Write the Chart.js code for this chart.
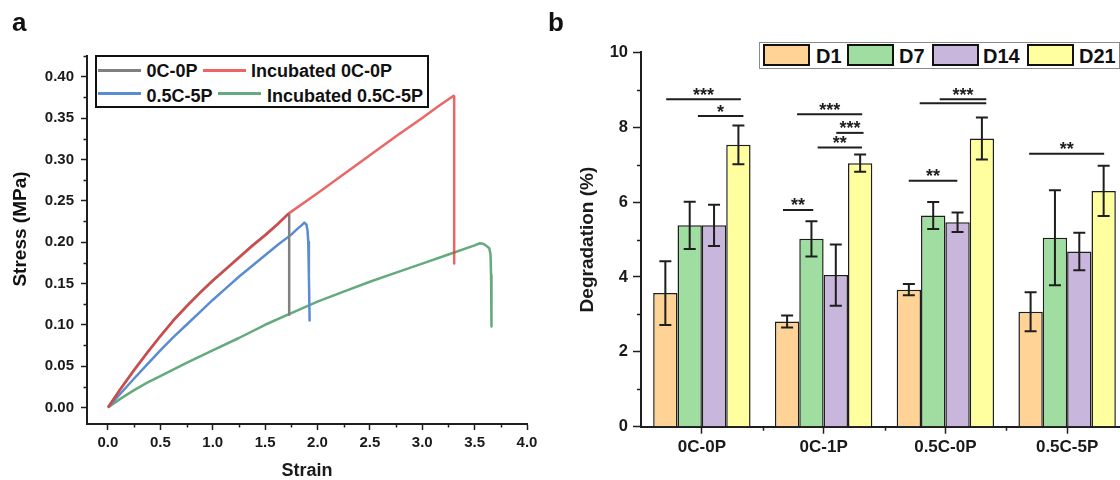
<!DOCTYPE html>
<html>
<head>
<meta charset="utf-8">
<script src="https://cdn.jsdelivr.net/npm/chart.js@4.4.1/dist/chart.umd.min.js"></script>
<style>
  html, body { margin: 0; padding: 0; background: #fff; }
  body { width: 1120px; height: 480px; position: relative; overflow: hidden;
         font-family: "Liberation Sans", Arial, sans-serif; color: #111; }
  .abs { position: absolute; white-space: nowrap; font-weight: bold; }
  #wrapA { position: absolute; left: 0; top: 0; width: 560px; height: 480px; }
  #wrapB { position: absolute; left: 560px; top: 0; width: 560px; height: 480px; overflow: hidden; }
  #chartB { position: absolute; left: 0; top: 0; }
  .tag { font-size: 26px; line-height: 26px; }
  .legA { font-size: 18px; line-height: 18px; }
  .legB { font-size: 20px; line-height: 20px; }
  .swatch { position: absolute; height: 2.5px; width: 43px; }
  .box { position: absolute; box-sizing: border-box; border: 2px solid #111; width: 47px; height: 22px; }
</style>
</head>
<body>
<div id="wrapA"><canvas id="chartA" width="560" height="480"></canvas></div>
<div id="wrapB"><canvas id="chartB" width="600" height="480"></canvas></div>

<div class="abs tag" style="left:12px; top:9px;">a</div>
<div class="abs tag" style="left:548px; top:9px;">b</div>
<div class="abs" style="left:18.5px; top:229px; font-size:19px; line-height:19px; transform:translate(-50%,-50%) rotate(-90deg);">Stress (MPa)</div>

<!-- legend a -->
<div style="position:absolute; left:95px; top:55px; width:334px; height:53px; box-sizing:border-box; border:2px solid #111; background:#fff;"></div>
<div class="swatch" style="left:98px; top:69px; background:rgb(128,128,128);"></div>
<div class="abs legA" style="left:146.5px; top:61.7px;">0C-0P</div>
<div class="swatch" style="left:203px; top:69px; background:rgb(236,100,100);"></div>
<div class="abs legA" style="left:251px; top:61.7px;">Incubated 0C-0P</div>
<div class="swatch" style="left:98px; top:92px; background:rgb(90,140,210);"></div>
<div class="abs legA" style="left:146.5px; top:86.7px;">0.5C-5P</div>
<div class="swatch" style="left:218px; top:92px; background:rgb(100,170,125);"></div>
<div class="abs legA" style="left:267px; top:86.7px;">Incubated 0.5C-5P</div>

<!-- legend b -->
<div style="position:absolute; left:759px; top:41.5px; width:361px; height:27px; box-sizing:border-box; border:1.5px solid #8a8a8a; background:#fff;"></div>
<div class="box" style="left:763px; top:44px; background:#FFD296;"></div>
<div class="abs legB" style="left:816px; top:46px;">D1</div>
<div class="box" style="left:847px; top:44px; background:#A0DDA0;"></div>
<div class="abs legB" style="left:899px; top:46px;">D7</div>
<div class="box" style="left:931.5px; top:44px; background:#C8B6DC;"></div>
<div class="abs legB" style="left:983px; top:46px;">D14</div>
<div class="box" style="left:1026.5px; top:44px; background:#FFFFA0;"></div>
<div class="abs legB" style="left:1079px; top:46px;">D21</div>

<script>
// ---- panel a: stress-strain ----
const strainTicks = [0, 0.5, 1, 1.5, 2, 2.5, 3, 3.5, 4];
const stressTicks = [0, 0.05, 0.1, 0.15, 0.2, 0.25, 0.3, 0.35, 0.4];
const strainMinor = [0.25, 0.75, 1.25, 1.75, 2.25, 2.75, 3.25, 3.75];
const stressMinor = [0.025, 0.075, 0.125, 0.175, 0.225, 0.275, 0.325, 0.375, 0.425];

const seriesNames = ['0C-0P', 'Incubated 0C-0P', '0.5C-5P', 'Incubated 0.5C-5P'];

const strain0C0P = [0, 0.125, 0.25, 0.375, 0.5, 0.625, 0.75, 0.875, 1.0, 1.125, 1.25, 1.375, 1.5, 1.625, 1.72, 1.73, 1.73];
const stress0C0P = [0, 0.0235, 0.0455, 0.0665, 0.0865, 0.1055, 0.1225, 0.1385, 0.1535, 0.1675, 0.1815, 0.1955, 0.2085, 0.2225, 0.234, 0.233, 0.112];

const strainInc0C0P = [0, 0.125, 0.25, 0.375, 0.5, 0.625, 0.75, 0.875, 1.0, 1.125, 1.25, 1.375, 1.5, 1.625, 1.73,
    2.0, 2.25, 2.5, 2.75, 3.0, 3.15, 3.3, 3.305, 3.305];
const stressInc0C0P = [0, 0.023, 0.045, 0.066, 0.086, 0.105, 0.122, 0.138, 0.153, 0.167, 0.181, 0.195, 0.208, 0.222, 0.235,
    0.259, 0.282, 0.305, 0.328, 0.35, 0.364, 0.377, 0.376, 0.174];

const strain05C5P = [0, 0.125, 0.25, 0.375, 0.5, 0.625, 0.75, 0.875, 1.0, 1.125, 1.25, 1.375, 1.5, 1.625, 1.75,
    1.8, 1.85, 1.875, 1.895, 1.905, 1.912, 1.918, 1.925];
const stress05C5P = [0, 0.0175, 0.035, 0.052, 0.069, 0.085, 0.1, 0.115, 0.13, 0.144, 0.158, 0.171, 0.184, 0.197, 0.209,
    0.215, 0.2205, 0.2235, 0.221, 0.214, 0.2, 0.16, 0.104];

const strainInc05C5P = [0, 0.125, 0.25, 0.375, 0.5, 0.75, 1.0, 1.25, 1.5, 1.75, 2.0, 2.25, 2.5, 2.75, 3.0, 3.25, 3.5,
    3.55, 3.58, 3.6, 3.64, 3.652, 3.657, 3.66, 3.662];
const stressInc05C5P = [0, 0.011, 0.021, 0.03, 0.038, 0.054, 0.069, 0.084, 0.1, 0.114, 0.128, 0.14, 0.152, 0.163, 0.174, 0.185, 0.196,
    0.1986, 0.198, 0.1966, 0.1925, 0.185, 0.16, 0.13, 0.098];

// ---- panel b: degradation ----
const groups = ['0C-0P', '0C-1P', '0.5C-0P', '0.5C-5P'];
const days = ['D1', 'D7', 'D14', 'D21'];
const d1Mean = [3.57, 2.81, 3.66, 3.07];
const d1Err = [0.85, 0.16, 0.15, 0.52];
const d7Mean = [5.38, 5.02, 5.64, 5.05];
const d7Err = [0.63, 0.47, 0.36, 1.27];
const d14Mean = [5.38, 4.05, 5.46, 4.68];
const d14Err = [0.55, 0.82, 0.26, 0.5];
const d21Mean = [7.53, 7.04, 7.7, 6.3];
const d21Err = [0.52, 0.23, 0.56, 0.67];
const degTicks = [0, 2, 4, 6, 8, 10];
const degMinor = [1, 3, 5, 7, 9];
const groupEdges = [0.5, 1.5, 2.5, 3.5];

// significance bars: group, from, to (offset from group centre), level (%), stars
const sigBars = [
    [0, -0.293, 0.320, 8.75, '***'],
    [0, -0.033, 0.341, 8.30, '*'],
    [1, -0.218, 0.317, 8.35, '***'],
    [1, 0.104, 0.328, 7.85, '***'],
    [1, -0.049, 0.315, 7.46, '**'],
    [1, -0.334, -0.085, 5.79, '**'],
    [2, -0.211, 0.336, 8.64, ''],
    [2, -0.047, 0.336, 8.75, '***'],
    [2, -0.301, 0.098, 6.57, '**'],
    [3, -0.312, 0.304, 7.29, '**']
];

Chart.defaults.font.family = "'Liberation Sans', Arial, sans-serif";
Chart.defaults.color = '#1a1a1a';

const ink = '#1e1e1e';

const minorTicks = (xVals, yVals, len) => ({
    id: 'minorTicks',
    afterDraw: chart => {
        const {ctx} = chart;
        const xs = chart.scales.x, ys = chart.scales.y;
        ctx.save();
        ctx.strokeStyle = ink;
        ctx.lineWidth = 1.5;
        ctx.beginPath();
        xVals.forEach(v => {
            const px = Math.round(xs.getPixelForValue(v)) + 0.5;
            ctx.moveTo(px, xs.top);
            ctx.lineTo(px, xs.top + len);
        });
        yVals.forEach(v => {
            const py = Math.round(ys.getPixelForValue(v)) + 0.5;
            ctx.moveTo(ys.right, py);
            ctx.lineTo(ys.right - len, py);
        });
        ctx.stroke();
        ctx.restore();
    }
});

const makeLine = (label, xs, ys, color, order) => ({
    label: label,
    data: xs.map((x, i) => ({x: x, y: ys[i]})),
    borderColor: color,
    order: order
});

new Chart(document.getElementById('chartA'), {
    type: 'line',
    data: {
        datasets: [
            makeLine(seriesNames[0], strain0C0P, stress0C0P, 'rgb(128,128,128)', 1),
            makeLine(seriesNames[1], strainInc0C0P, stressInc0C0P, 'rgba(228,60,60,0.78)', 0),
            makeLine(seriesNames[2], strain05C5P, stress05C5P, 'rgb(90,140,210)', 2),
            makeLine(seriesNames[3], strainInc05C5P, stressInc05C5P, 'rgb(100,170,125)', 3)
        ]
    },
    options: {
        responsive: false,
        animation: false,
        devicePixelRatio: 1,
        layout: {padding: {top: 56, right: 33, bottom: 0, left: 0}},
        elements: {point: {radius: 0}, line: {tension: 0, borderWidth: 2.5, borderJoinStyle: 'round'}},
        plugins: {legend: {display: false}, tooltip: {enabled: false}},
        scales: {
            x: {
                type: 'linear',
                min: -0.2,
                max: 4,
                afterBuildTicks: s => { s.ticks = strainTicks.map(v => ({value: v})); },
                afterFit: s => { s.height = 56; },
                border: {color: ink, width: 2},
                grid: {drawOnChartArea: false, tickLength: 6, tickColor: ink, tickWidth: 1.5},
                ticks: {font: {size: 15, weight: 'bold'}, padding: 4, autoSkip: false, maxRotation: 0,
                        callback: v => v.toFixed(1)},
                title: {display: true, text: 'Strain', font: {size: 18, weight: 'bold', lineHeight: 1},
                        padding: {top: 0, bottom: 0}}
            },
            y: {
                type: 'linear',
                min: -0.02,
                max: 0.425,
                afterBuildTicks: s => { s.ticks = stressTicks.map(v => ({value: v})); },
                afterFit: s => { s.width = 87; },
                border: {color: ink, width: 2},
                grid: {drawOnChartArea: false, tickLength: 6, tickColor: ink, tickWidth: 1.5},
                ticks: {font: {size: 15, weight: 'bold'}, padding: 7, autoSkip: false,
                        callback: v => v.toFixed(2)}
            }
        }
    },
    plugins: [minorTicks(strainMinor, stressMinor, 3.5)]
});

const errorBars = {
    id: 'errorBars',
    afterDatasetsDraw: chart => {
        const {ctx} = chart;
        const ys = chart.scales.y;
        ctx.save();
        ctx.strokeStyle = ink;
        ctx.lineWidth = 2;
        chart.data.datasets.forEach((ds, i) => {
            chart.getDatasetMeta(i).data.forEach((bar, j) => {
                const top = ys.getPixelForValue(ds.data[j] + ds.errors[j]);
                const bottom = ys.getPixelForValue(ds.data[j] - ds.errors[j]);
                ctx.beginPath();
                ctx.moveTo(bar.x, top);
                ctx.lineTo(bar.x, bottom);
                ctx.moveTo(bar.x - 6, top);
                ctx.lineTo(bar.x + 6, top);
                ctx.moveTo(bar.x - 6, bottom);
                ctx.lineTo(bar.x + 6, bottom);
                ctx.stroke();
            });
        });
        ctx.restore();
    }
};

const significance = {
    id: 'significance',
    afterDatasetsDraw: chart => {
        const {ctx} = chart;
        const xs = chart.scales.x, ys = chart.scales.y;
        ctx.save();
        ctx.strokeStyle = ink;
        ctx.fillStyle = ink;
        ctx.lineWidth = 2;
        ctx.font = "bold 18px 'Liberation Sans', Arial, sans-serif";
        ctx.textAlign = 'center';
        ctx.textBaseline = 'alphabetic';
        sigBars.forEach(([g, from, to, level, stars]) => {
            const x1 = xs.getPixelForValue(g + from);
            const x2 = xs.getPixelForValue(g + to);
            const y = ys.getPixelForValue(level);
            ctx.beginPath();
            ctx.moveTo(x1, y);
            ctx.lineTo(x2, y);
            ctx.stroke();
            if (stars) ctx.fillText(stars, (x1 + x2) / 2, y + 1.5);
        });
        ctx.restore();
    }
};

const makeBars = (label, means, errs, color) => ({
    label: label,
    data: means,
    errors: errs,
    backgroundColor: color,
    borderColor: ink,
    borderWidth: 1.5
});

new Chart(document.getElementById('chartB'), {
    type: 'bar',
    data: {
        labels: groups,
        datasets: [
            makeBars(days[0], d1Mean, d1Err, '#FFD296'),
            makeBars(days[1], d7Mean, d7Err, '#A0DDA0'),
            makeBars(days[2], d14Mean, d14Err, '#C8B6DC'),
            makeBars(days[3], d21Mean, d21Err, '#FFFFA0')
        ]
    },
    options: {
        responsive: false,
        animation: false,
        devicePixelRatio: 1,
        layout: {padding: {top: 52.4, right: 32, bottom: 0, left: 0}},
        datasets: {bar: {categoryPercentage: 0.8, barPercentage: 1.0}},
        plugins: {legend: {display: false}, tooltip: {enabled: false}},
        scales: {
            x: {
                afterFit: s => { s.height = 53.3; },
                border: {color: ink, width: 2},
                grid: {drawOnChartArea: false, offset: false, tickLength: 7, tickColor: ink, tickWidth: 1.5},
                ticks: {font: {size: 17, weight: 'bold'}, padding: 3, autoSkip: false, maxRotation: 0}
            },
            y: {
                min: 0,
                max: 10,
                afterBuildTicks: s => { s.ticks = degTicks.map(v => ({value: v})); },
                afterFit: s => { s.width = 81; },
                border: {color: ink, width: 2},
                grid: {drawOnChartArea: false, tickLength: 8, tickColor: ink, tickWidth: 1.5},
                ticks: {font: {size: 16.5, weight: 'bold'}, padding: 5, autoSkip: false},
                title: {display: true, text: 'Degradation (%)', font: {size: 19, weight: 'bold'},
                        padding: {top: 16, bottom: 0}}
            }
        }
    },
    plugins: [errorBars, significance, minorTicks(groupEdges, degMinor, 4)]
});
</script>
</body>
</html>
